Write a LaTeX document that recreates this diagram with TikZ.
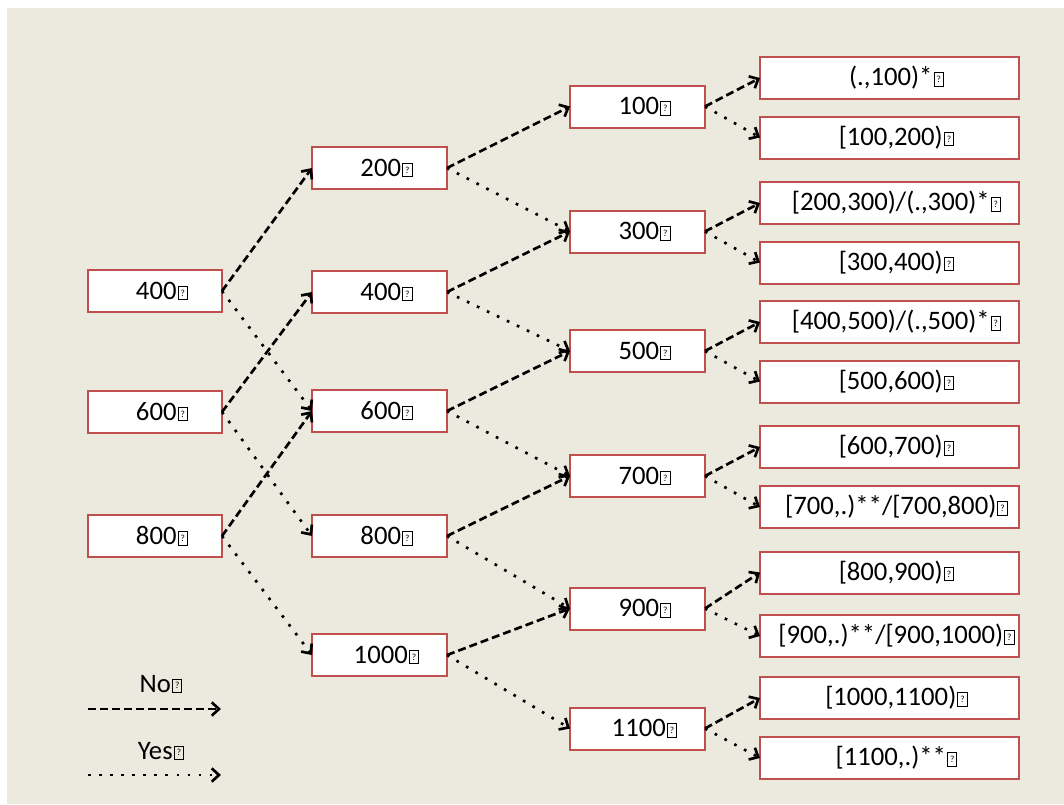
\documentclass[tikz,border=0pt]{standalone}
\usepackage{fontspec}
\setmainfont{Carlito}
\usetikzlibrary{arrows.meta}
\definecolor{bg}{HTML}{ECE9DF}
\definecolor{boxred}{HTML}{C0504D}
\newcommand{\qb}{\kern0.8pt\raisebox{-0.6pt}{\hbox{\vrule width 0.7pt\vbox{\hrule height 0.7pt\hbox to 6.4pt{\hss\vbox to 9.4pt{\vss\hbox{\fontsize{7}{7}\selectfont ?}\vss}\hss}\hrule height 0.7pt}\vrule width 0.7pt}}}
\tikzset{
  bx/.style={draw=boxred, line width=1.5pt, fill=white, rectangle, inner sep=0pt, outer sep=0pt,
    minimum height=31.5pt, font=\fontsize{20}{24}\selectfont,
    execute at begin node={\hspace*{10.5pt}}, execute at end node={\qb}},
  cA/.style={bx, minimum width=100.5pt},
  cB/.style={bx, minimum width=101.25pt},
  cD/.style={bx, minimum width=194.25pt},
  no/.style={line width=2pt, dash pattern=on 6pt off 3pt, -{Straight Barb[length=5.5pt,width=10pt,line width=2pt]}},
  yes/.style={line width=2pt, dash pattern=on 2pt off 6.3pt, -{Straight Barb[length=5.5pt,width=10pt,line width=2pt]}},
  lg/.style={font=\fontsize{20}{24}\selectfont, inner sep=0pt}
}
\begin{document}
\begin{tikzpicture}[x=0.75pt,y=-0.75pt]
\useasboundingbox (0,0) rectangle (1064,804);
\fill[white] (0,0) rectangle (1064,804);
\fill[bg] (7,8) rectangle (1064,804);
% column 1
\node[cA] (a400) at (155,291) {400};
\node[cA] (a600) at (155,412) {600};
\node[cA] (a800) at (155,536) {800};
% column 2
\node[cB] (b200) at (379.5,168) {200};
\node[cB] (b400) at (379.5,292) {400};
\node[cB] (b600) at (379.5,411) {600};
\node[cB] (b800) at (379.5,536) {800};
\node[cB] (b1000) at (379.5,655) {1000};
% column 3
\node[cB] (c100) at (637.5,106.5) {100};
\node[cB] (c300) at (637.5,231.5) {300};
\node[cB] (c500) at (637.5,351) {500};
\node[cB] (c700) at (637.5,476) {700};
\node[cB] (c900) at (637.5,608.5) {900};
\node[cB] (c1100) at (637.5,728.5) {1100};
% column 4
\node[cD] (d1) at (889.5,78) {(.,100)*};
\node[cD] (d2) at (889.5,137.5) {[100,200)};
\node[cD] (d3) at (889.5,203) {[200,300)/(.,300)*};
\node[cD] (d4) at (889.5,262.5) {[300,400)};
\node[cD] (d5) at (889.5,322) {[400,500)/(.,500)*};
\node[cD] (d6) at (889.5,381.5) {[500,600)};
\node[cD] (d7) at (889.5,447) {[600,700)};
\node[cD] (d8) at (889.5,507) {[700,.)**/[700,800)};
\node[cD] (d9) at (889.5,572.5) {[800,900)};
\node[cD] (d10) at (889.5,636) {[900,.)**/[900,1000)};
\node[cD] (d11) at (889.5,698) {[1000,1100)};
\node[cD] (d12) at (889.5,758) {[1100,.)**};
% connectors col1 -> col2
\draw[no] (a400.east) -- (b200.west);
\draw[yes] (a400.east) -- (b600.west);
\draw[no] (a600.east) -- (b400.west);
\draw[yes] (a600.east) -- (b800.west);
\draw[no] (a800.east) -- (b600.west);
\draw[yes] (a800.east) -- (b1000.west);
% col2 -> col3
\draw[no] (b200.east) -- (c100.west);
\draw[yes] (b200.east) -- (c300.west);
\draw[no] (b400.east) -- (c300.west);
\draw[yes] (b400.east) -- (c500.west);
\draw[no] (b600.east) -- (c500.west);
\draw[yes] (b600.east) -- (c700.west);
\draw[no] (b800.east) -- (c700.west);
\draw[yes] (b800.east) -- (c900.west);
\draw[no] (b1000.east) -- (c900.west);
\draw[yes] (b1000.east) -- (c1100.west);
% col3 -> col4
\draw[no] (c100.east) -- (d1.west);
\draw[yes] (c100.east) -- (d2.west);
\draw[no] (c300.east) -- (d3.west);
\draw[yes] (c300.east) -- (d4.west);
\draw[no] (c500.east) -- (d5.west);
\draw[yes] (c500.east) -- (d6.west);
\draw[no] (c700.east) -- (d7.west);
\draw[yes] (c700.east) -- (d8.west);
\draw[no] (c900.east) -- (d9.west);
\draw[yes] (c900.east) -- (d10.west);
\draw[no] (c1100.east) -- (d11.west);
\draw[yes] (c1100.east) -- (d12.west);
% legend
\node[lg] (lno) at (161,684) {No\qb};
\coordinate (n1) at (88,709);
\coordinate (n2) at (221,709);
\draw[no] (n1) -- (n2);
\node[lg] (lyes) at (161,751) {Yes\qb};
\coordinate (y1) at (88,775);
\coordinate (y2) at (221,775);
\draw[yes] (y1) -- (y2);
\end{tikzpicture}
\end{document}
